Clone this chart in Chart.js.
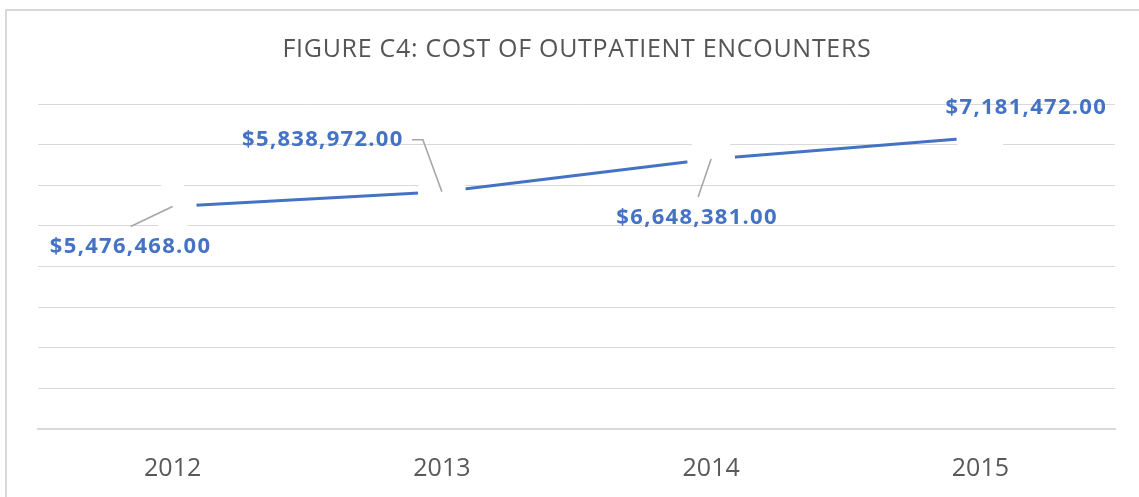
<!DOCTYPE html>
<html>
<head>
<meta charset="utf-8">
<script src="https://cdn.jsdelivr.net/npm/chart.js@4.4.1/dist/chart.umd.min.js"></script>
<style>
  html, body { margin: 0; padding: 0; background: #ffffff; }
  #wrap { position: relative; width: 1139px; height: 497px; }
  canvas { display: block; }
</style>
</head>
<body>
<div id="wrap"><canvas id="c" width="1139" height="497"></canvas></div>
<script>
// ---- data ----
const categories = ['2012', '2013', '2014', '2015'];
const costValues = [5476468, 5838972, 6648381, 7181472];
const yAxisMin = 0;
const yAxisMax = 8000000;
const yAxisStep = 1000000;
const chartTitle = 'FIGURE C4: COST OF OUTPATIENT ENCOUNTERS';

const fmt = v => '$' + v.toLocaleString('en-US', { minimumFractionDigits: 2, maximumFractionDigits: 2 });

// label placement relative to the point (text centre offset, leader path)
const labelPlacement = [
  { dx: -43, dy: 40,  leader: [[-42, 20], [0, 0]] },
  { dx: -120, dy: -52, leader: [[-30, -52], [-19, -52], [0, 0]] },
  { dx: -15, dy: 59,  leader: [[-13, 38], [0, 0]] },
  { dx: 45,  dy: -30, leader: null }
];

const frameAndTitle = {
  id: 'frameAndTitle',
  beforeDraw(chart) {
    const ctx = chart.ctx;
    ctx.save();
    ctx.fillStyle = '#ffffff';
    ctx.fillRect(0, 0, chart.width, chart.height);
    ctx.strokeStyle = '#d9d9d9';
    ctx.lineWidth = 2;
    ctx.strokeRect(6, 10, chart.width + 50, chart.height + 50);
    ctx.fillStyle = '#555555';
    ctx.font = '25px "Open Sans"';
    ctx.letterSpacing = '0.7px';
    ctx.textAlign = 'center';
    ctx.textBaseline = 'middle';
    ctx.fillText(chartTitle, 577, 50);
    ctx.restore();
  }
};

const dataLabels = {
  id: 'dataLabels',
  afterDatasetsDraw(chart) {
    const ctx = chart.ctx;
    const meta = chart.getDatasetMeta(0);
    ctx.save();
    meta.data.forEach((pt, i) => {
      const p = labelPlacement[i];
      if (p.leader) {
        ctx.strokeStyle = '#a6a6a6';
        ctx.lineWidth = 1.6;
        ctx.beginPath();
        p.leader.forEach(([lx, ly], k) => {
          if (k === 0) ctx.moveTo(pt.x + lx, pt.y + ly);
          else ctx.lineTo(pt.x + lx, pt.y + ly);
        });
        ctx.stroke();
      }
      ctx.fillStyle = '#4472C4';
      ctx.font = 'bold 22px "Open Sans"';
      ctx.letterSpacing = '1.3px';
      ctx.textAlign = 'center';
      ctx.textBaseline = 'middle';
      ctx.fillText(fmt(costValues[i]), pt.x + p.dx + 1, pt.y + p.dy);
    });
    ctx.restore();
  }
};

new Chart(document.getElementById('c'), {
  type: 'line',
  data: {
    labels: categories,
    datasets: [{
      label: 'Cost',
      data: costValues,
      borderColor: '#4472C4',
      borderWidth: 3,
      tension: 0,
      pointRadius: 24,
      pointHoverRadius: 24,
      pointBackgroundColor: '#ffffff',
      pointBorderColor: '#ffffff',
      pointBorderWidth: 0,
      clip: false
    }]
  },
  options: {
    responsive: false,
    devicePixelRatio: 1,
    animation: false,
    events: [],
    layout: { padding: { left: 38, right: 24, top: 104, bottom: 13 } },
    plugins: {
      legend: { display: false },
      title: { display: false },
      tooltip: { enabled: false }
    },
    scales: {
      x: {
        offset: true,
        grid: {
          display: true,
          drawOnChartArea: false,
          drawTicks: true,
          tickLength: 25,
          color: 'rgba(0,0,0,0)',
          tickColor: 'rgba(0,0,0,0)'
        },
        border: { display: true, color: '#d9d9d9', width: 2 },
        ticks: {
          color: '#595959',
          font: { family: '"Open Sans"', size: 25 },
          padding: 0,
          maxRotation: 0
        }
      },
      y: {
        min: yAxisMin,
        max: yAxisMax,
        ticks: { display: false, stepSize: yAxisStep },
        grid: { color: '#d9d9d9', lineWidth: 1, drawTicks: false },
        border: { display: false }
      }
    }
  },
  plugins: [frameAndTitle, dataLabels]
});
</script>
</body>
</html>
